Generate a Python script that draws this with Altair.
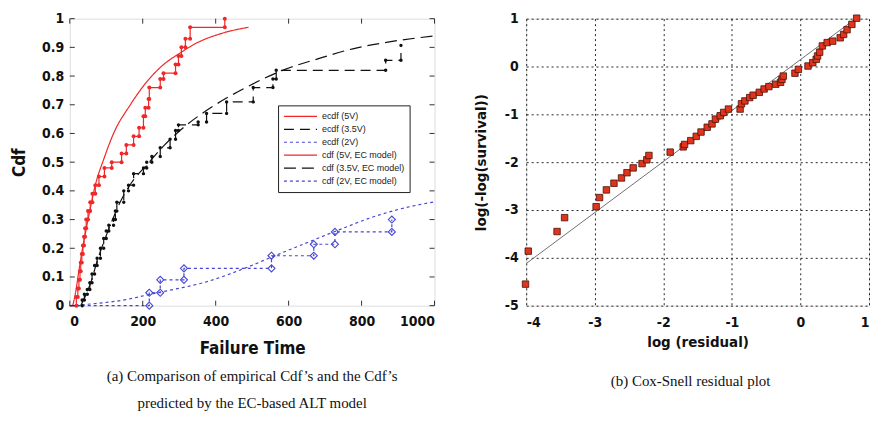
import altair as alt
import pandas as pd

# ---------------- Left panel data ----------------
x_ticks = [0, 200, 400, 600, 800, 1000]
y_ticks = [0, 0.1, 0.2, 0.3, 0.4, 0.5, 0.6, 0.7, 0.8, 0.9, 1.0]

series_names = ["ecdf (5V)", "ecdf (3.5V)", "ecdf (2V)",
                "cdf (5V, EC model)", "cdf (3.5V, EC model)", "cdf (2V, EC model)"]

red_ecdf_t = [0, 18, 22, 25, 28, 30, 33, 36, 39, 42, 45, 50, 56, 62, 70, 80, 95, 115, 142, 155,
              175, 190, 202, 207, 216, 218, 248, 257, 290, 298, 306, 317, 330, 425]
red_ecdf_F = [0, 0.03, 0.06, 0.09, 0.12, 0.15, 0.18, 0.21, 0.24, 0.27, 0.30, 0.33, 0.36, 0.39, 0.42,
              0.45, 0.48, 0.50, 0.53, 0.56, 0.59, 0.62, 0.66, 0.69, 0.72, 0.76, 0.79, 0.81, 0.84,
              0.87, 0.90, 0.93, 0.97, 1.0]

black_ecdf_t = [0, 34, 40, 48, 55, 61, 68, 75, 84, 93, 100, 107, 120, 125, 129, 148, 161, 175, 202,
                211, 225, 248, 275, 290, 298, 352, 375, 430, 503, 557, 566, 866, 908]
black_ecdf_F = [0, 0.02, 0.04, 0.056, 0.08, 0.11, 0.14, 0.165, 0.20, 0.234, 0.26, 0.28, 0.30, 0.33,
                0.36, 0.40, 0.42, 0.46, 0.48, 0.50, 0.52, 0.55, 0.58, 0.61, 0.63, 0.64, 0.67, 0.71,
                0.76, 0.79, 0.82, 0.855, 0.907]

blue_ecdf_t = [0, 218, 248, 313, 553, 669, 727, 883]
blue_ecdf_F = [0, 0.045, 0.09, 0.13, 0.174, 0.214, 0.257, 0.30]

red_model_t = [8, 15, 26, 35, 47, 58, 70, 93, 120, 166, 211, 257, 302, 340, 420, 490]
red_model_F = [0, 0.04, 0.13, 0.20, 0.28, 0.35, 0.42, 0.51, 0.60, 0.70, 0.78, 0.84, 0.88, 0.91,
               0.95, 0.97]

black_model_t = [30, 45, 60, 75, 90, 111, 138, 170, 211, 260, 311, 393, 475, 594, 680, 776, 880, 1000]
black_model_F = [0, 0.04, 0.09, 0.155, 0.21, 0.28, 0.36, 0.43, 0.49, 0.56, 0.62, 0.695, 0.755,
                 0.825, 0.86, 0.895, 0.92, 0.94]

blue_model_t = [0, 75, 150, 218, 290, 366, 475, 570, 667, 740, 822, 900, 1000]
blue_model_F = [0, 0.008, 0.02, 0.039, 0.058, 0.08, 0.128, 0.178, 0.228, 0.265, 0.305, 0.335, 0.362]

# ---------------- Right panel data ----------------
rx_ticks = [-4, -3, -2, -1, 0, 1]
ry_ticks = [-5, -4, -3, -2, -1, 0, 1]
log_resid = [-4.01, -3.97, -3.55, -3.44, -2.98, -2.93, -2.83, -2.72, -2.61, -2.53, -2.44, -2.31,
             -2.24, -2.21, -1.90, -1.71, -1.69, -1.60, -1.52, -1.45, -1.36, -1.29, -1.24, -1.17,
             -1.12, -1.05, -0.88, -0.86, -0.81, -0.74, -0.69, -0.60, -0.53, -0.46, -0.36, -0.29,
             -0.27, -0.25, -0.08, -0.03, 0.11, 0.18, 0.23, 0.25, 0.28, 0.32, 0.39, 0.47, 0.58,
             0.63, 0.68, 0.75, 0.82]
log_surv = [-4.55, -3.86, -3.45, -3.16, -2.93, -2.74, -2.58, -2.44, -2.33, -2.22, -2.12, -2.03,
            -1.95, -1.86, -1.79, -1.68, -1.63, -1.55, -1.46, -1.37, -1.27, -1.20, -1.10, -1.03,
            -0.96, -0.89, -0.89, -0.78, -0.72, -0.65, -0.60, -0.54, -0.47, -0.42, -0.37, -0.33,
            -0.27, -0.20, -0.14, -0.06, 0.01, 0.08, 0.15, 0.22, 0.30, 0.43, 0.50, 0.53, 0.60,
            0.67, 0.77, 0.88, 1.01]
ref_line_x = [-4.0, 0.85]
ref_line_y = [-4.12, 1.05]

# ---------------- Styling ----------------
RED = "#f02828"
BLACK = "#111111"
BLUE = "#4646d2"
FONT = "Liberation Sans Narrow, DejaVu Sans Condensed, Arial Narrow, sans-serif"
SERIF = "Liberation Serif, Times New Roman, serif"

# ---------------- Build tables ----------------
def table(series, t, F):
    return pd.DataFrame({"series": series, "t": t, "F": F})

def corners(t, F):
    rows = []
    for i in range(1, len(t)):
        rows.append({"t": t[i], "F": F[i - 1]})
        rows.append({"t": t[i], "F": F[i]})
    return pd.DataFrame(rows)

ecdf_df = pd.concat([table(series_names[0], red_ecdf_t, red_ecdf_F),
                     table(series_names[1], black_ecdf_t, black_ecdf_F),
                     table(series_names[2], blue_ecdf_t, blue_ecdf_F)])
model_df = pd.concat([table(series_names[3], red_model_t, red_model_F),
                      table(series_names[4], black_model_t, black_model_F),
                      table(series_names[5], blue_model_t, blue_model_F)])

red_pts = corners(red_ecdf_t, red_ecdf_F)
black_pts = corners(black_ecdf_t, black_ecdf_F)
blue_pts = corners(blue_ecdf_t, blue_ecdf_F)

W1, H1 = 366, 288
W2, H2 = 344, 288

x_left = alt.X("t:Q", scale=alt.Scale(domain=[0, 1000], nice=False),
               axis=alt.Axis(values=x_ticks, labelExpr="datum.value + ''", title="Failure Time",
                             grid=False, ticks=False, domain=False, labelFont=FONT,
                             labelFontSize=14, labelFontWeight="bold", labelPadding=9,
                             labelColor="#111", titleFont=FONT, titleFontSize=17,
                             titleFontWeight="bold", titlePadding=12, titleColor="#111"))
y_left = alt.Y("F:Q", scale=alt.Scale(domain=[0, 1], nice=False),
               axis=alt.Axis(values=y_ticks, format="~g", title="Cdf", grid=False, ticks=False,
                             domain=False, labelFont=FONT, labelFontSize=14,
                             labelFontWeight="bold", labelPadding=6, labelColor="#111",
                             titleFont=FONT, titleFontSize=17, titleFontWeight="bold",
                             titlePadding=13, titleColor="#111"))

legend = alt.Legend(title=None, orient="none", legendX=209, legendY=87,
                    symbolType="stroke", symbolSize=1100, symbolStrokeWidth=1.2,
                    labelFont="Liberation Sans, Arial, sans-serif", labelFontSize=9,
                    labelColor="#222", strokeColor="#222", fillColor="white",
                    padding=5, rowPadding=1, clipHeight=12, labelOffset=4, labelLimit=200)
color_scale = alt.Scale(domain=series_names, range=[RED, BLACK, BLUE, RED, BLACK, BLUE])
dash_scale = alt.Scale(domain=series_names,
                       range=[[1, 0], [10, 6], [3, 3], [1, 0], [12, 6], [3, 3]])

color_enc = alt.Color("series:N", scale=color_scale, legend=legend, sort=series_names)
dash_enc = alt.StrokeDash("series:N", scale=dash_scale, legend=legend, sort=series_names)

ecdf_lines = alt.Chart(ecdf_df).mark_line(interpolate="step-after", strokeWidth=1.2).encode(
    x=x_left, y=y_left, color=color_enc, strokeDash=dash_enc, detail="series:N")
model_lines = alt.Chart(model_df).mark_line(interpolate="monotone", strokeWidth=1.2).encode(
    x=x_left, y=y_left, color=color_enc, strokeDash=dash_enc, detail="series:N")

red_marks = alt.Chart(red_pts).mark_point(shape="circle", filled=True, size=16, color=RED,
                                          opacity=1).encode(x=x_left, y=y_left)
black_marks = alt.Chart(black_pts).mark_point(shape="circle", filled=True, size=12, color=BLACK,
                                              opacity=1).encode(x=x_left, y=y_left)
blue_marks = alt.Chart(blue_pts).mark_point(shape="diamond", filled=False, size=50, color=BLUE,
                                            strokeWidth=1.1, opacity=1).encode(x=x_left, y=y_left)

xt_df = pd.DataFrame({"t": x_ticks})
yt_df = pd.DataFrame({"F": y_ticks})
tick_col = "#333"
xt_bot = alt.Chart(xt_df).mark_rule(color=tick_col).encode(
    x=x_left, y=alt.value(H1 - 5), y2=alt.value(H1))
xt_top = alt.Chart(xt_df).mark_rule(color=tick_col).encode(
    x=x_left, y=alt.value(0), y2=alt.value(5))
yt_l = alt.Chart(yt_df).mark_rule(color=tick_col).encode(
    y=y_left, x=alt.value(0), x2=alt.value(5))
yt_r = alt.Chart(yt_df).mark_rule(color=tick_col).encode(
    y=y_left, x=alt.value(W1 - 5), x2=alt.value(W1))

left = alt.layer(model_lines, ecdf_lines, red_marks, black_marks, blue_marks,
                 xt_bot, xt_top, yt_l, yt_r).properties(
    width=W1, height=H1,
    title=alt.TitleParams(
        text=["(a)  Comparison of empirical Cdf\u2019s and the Cdf\u2019s",
              "predicted by the EC-based ALT model"],
        orient="bottom", anchor="middle", font=SERIF, fontSize=15, fontWeight="normal",
        color="#111", lineHeight=27, offset=13))

# ---------------- Right panel ----------------
res_df = pd.DataFrame({"r": log_resid, "v": log_surv})
ref_df = pd.DataFrame({"r": ref_line_x, "v": ref_line_y})

x_right = alt.X("r:Q", scale=alt.Scale(domain=[-4, 1], nice=False),
                axis=alt.Axis(values=rx_ticks, labelExpr="datum.value + ''", title="log (residual)",
                              grid=True, gridDash=[2, 3], gridColor="#000", gridOpacity=0.85,
                              ticks=False, domain=False, labelFont=FONT, labelFontSize=14,
                              labelFontWeight="bold", labelPadding=10, labelColor="#111",
                              titleFont=FONT, titleFontSize=15, titleFontWeight="bold",
                              titlePadding=5, titleColor="#111"))
y_right = alt.Y("v:Q", scale=alt.Scale(domain=[-5, 1], nice=False),
                axis=alt.Axis(values=ry_ticks, labelExpr="datum.value + ''",
                              title="log(-log(survival))",
                              grid=True, gridDash=[2, 3], gridColor="#000", gridOpacity=0.85,
                              ticks=False, domain=False, labelFont=FONT, labelFontSize=14,
                              labelFontWeight="bold", labelPadding=8, labelColor="#111",
                              titleFont=FONT, titleFontSize=15, titleFontWeight="bold",
                              titlePadding=16, titleColor="#111"))

ref_line = alt.Chart(ref_df).mark_line(color="#707070", strokeWidth=1).encode(x=x_right, y=y_right)
res_pts = alt.Chart(res_df).mark_point(shape="square", filled=True, size=42, fill="#e0341c",
                                       stroke="#4a1208", strokeWidth=0.8, opacity=1).encode(
    x=x_right, y=y_right)

right = alt.layer(ref_line, res_pts).properties(
    width=W2, height=H2,
    title=alt.TitleParams(text="(b) Cox-Snell residual plot", orient="bottom", anchor="middle",
                          font=SERIF, fontSize=15, fontWeight="normal", color="#111",
                          offset=25, dx=-7))

chart = alt.HConcatChart(hconcat=[left, right], spacing=92, bounds="flush").properties(
    padding={"left": 2, "top": 2, "right": 0, "bottom": 0}
).configure_view(stroke="#333", strokeWidth=1.2).configure(background="white")

chart.save("out.html", embed_options={"renderer": "svg", "actions": False})
